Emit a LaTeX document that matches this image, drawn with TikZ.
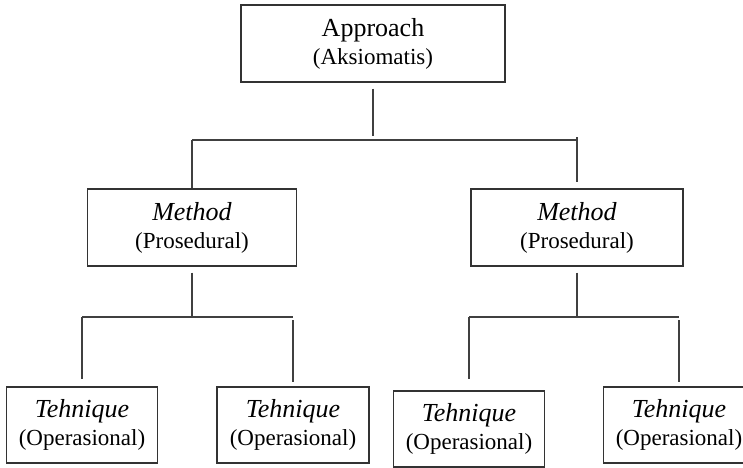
\documentclass[tikz,border=0pt]{standalone}
\usepackage{fontspec}
\setmainfont{Liberation Serif}
\usetikzlibrary{calc}
\def\boxlbl#1#2{{\fontsize{26}{28}\selectfont #1}\\#2}

\tikzset{
	lvl/.style={draw=black!80, line width=1.3pt, inner sep=0pt, align=center, font=\fontsize{23}{28}\selectfont},
	link/.style={draw=black!75, line width=1.3pt}
}

\begin{document}
\begin{tikzpicture}[x=1pt, y=-1pt]
		%%%%% START %%%%%
		
		\clip (0, 0) rectangle (743, 467);
		
		\node[lvl, minimum width=264pt, minimum height=77pt] (app) at (373, 43.5) {\boxlbl{Approach}{(Aksiomatis)}};
		
		\node[lvl, minimum width=209pt, minimum height=77pt] (met1) at (192, 227.5) {\boxlbl{\textit{Method}}{(Prosedural)}};
		\node[lvl, minimum width=212pt, minimum height=77pt] (met2) at (577, 227.5) {\boxlbl{\textit{Method}}{(Prosedural)}};
		
		\node[lvl, minimum width=151pt, minimum height=76pt] (teh1) at (82, 425) {\boxlbl{\textit{Tehnique}}{(Operasional)}};
		\node[lvl, minimum width=152pt, minimum height=76pt] (teh2) at (293, 425) {\boxlbl{\textit{Tehnique}}{(Operasional)}};
		\node[lvl, minimum width=151pt, minimum height=76pt] (teh3) at (469, 429) {\boxlbl{\textit{Tehnique}}{(Operasional)}};
		\node[lvl, minimum width=151pt, minimum height=76pt] (teh4) at (679, 425) {\boxlbl{\textit{Tehnique}}{(Operasional)}};
		
		\coordinate (bar0l) at (192, 140);
		\coordinate (bar0r) at (577, 140);
		\coordinate (bar1l) at (82, 317);
		\coordinate (bar1r) at (293, 317);
		\coordinate (bar2l) at (469, 317);
		\coordinate (bar2r) at (679, 317);
		
		\draw[link, shorten <=6pt, shorten >=4pt] (app) -- (app |- bar0l);
		\draw[link] (bar0l) -- (bar0r);
		\draw[link] (bar0l) -- (met1);
		\draw[link, shorten <=-3pt, shorten >=6pt] (bar0r) -- (met2);
		
		\draw[link, shorten <=6pt] (met1) -- (met1 |- bar1l);
		\draw[link] (bar1l) -- (bar1r);
		\draw[link, shorten >=7pt] (bar1l) -- (teh1);
		\draw[link, shorten <=3pt, shorten >=4pt] (bar1r) -- (teh2);
		
		\draw[link, shorten <=6pt] (met2) -- (met2 |- bar2l);
		\draw[link] (bar2l) -- (bar2r);
		\draw[link, shorten >=11pt] (bar2l) -- (teh3);
		\draw[link, shorten <=3pt, shorten >=4pt] (bar2r) -- (teh4);
		
		%%%%% END %%%%%
	\end{tikzpicture}
\end{document}
